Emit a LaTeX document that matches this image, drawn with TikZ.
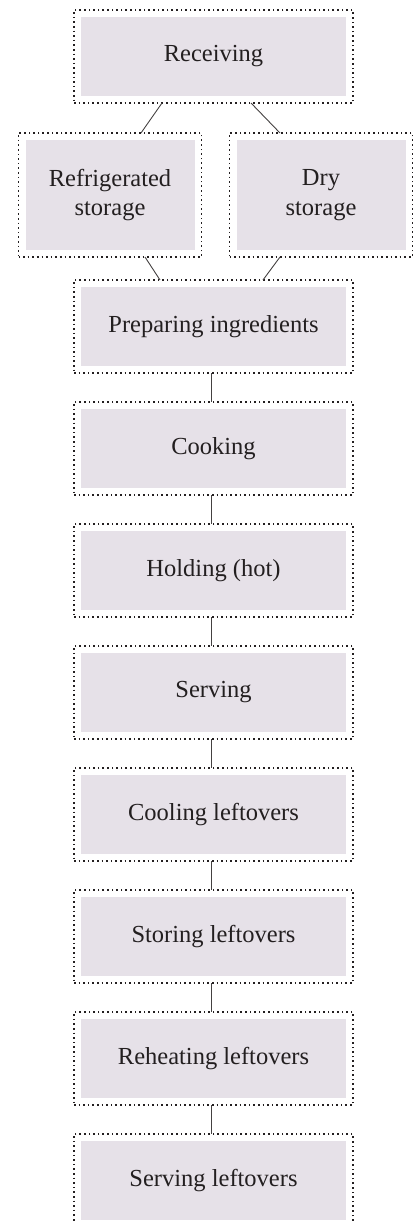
\documentclass[tikz,border=0pt]{standalone}
\usepackage{fontspec}
\setmainfont{Liberation Serif}
\usetikzlibrary{positioning}
\definecolor{stepFill}{RGB}{230,225,232}
\definecolor{stepInk}{RGB}{35,31,32}

\begin{document}
\begin{tikzpicture}[x=1pt,y=1pt,node distance=29pt,
  stepbox/.style={draw=stepInk,line width=1.6pt,dash pattern=on 1.6pt off 3pt,
    minimum width=279pt,minimum height=93pt,inner sep=0pt,outer sep=0pt,align=center,
    text=stepInk,font=\fontsize{24.5}{29.5}\selectfont,
    path picture={\fill[stepFill] ([shift={(7pt,7pt)}]path picture bounding box.south west)
      rectangle ([shift={(-7pt,-7pt)}]path picture bounding box.north east);}},
  storebox/.style={stepbox,minimum width=183pt,minimum height=124pt},
  link/.style={draw=stepInk!85,line width=0.9pt}]
\useasboundingbox (0,0) rectangle (416,-1222);
\clip (0,0) rectangle (416,-1222);
% receiving and storage
\node[stepbox] (recv) at (213.5,-56.5) {Receiving};
\node[storebox] (refr) at (110,-195) {Refrigerated\\storage};
\node[storebox] (dry) at (321,-195) {Dry\\storage};
% main line
\node[stepbox] (prep) at (213.5,-326.5) {Preparing ingredients};
\node[stepbox,below=of prep] (cook) {Cooking};
\node[stepbox,below=of cook] (hold) {Holding (hot)};
\node[stepbox,below=of hold] (serve) {Serving};
\node[stepbox,below=of serve] (cool) {Cooling leftovers};
\node[stepbox,below=of cool] (store) {Storing leftovers};
\node[stepbox,below=of store] (reheat) {Reheating leftovers};
\node[stepbox,below=of reheat] (serveleft) {Serving leftovers};
% connectors
\draw[link] ([xshift=-51.5pt]recv.south) -- ([xshift=31pt]refr.north);
\draw[link] ([xshift=37.5pt]recv.south) -- ([xshift=-41pt]dry.north);
\draw[link] ([xshift=35pt]refr.south) -- ([xshift=-53.5pt]prep.north);
\draw[link] ([xshift=-41pt]dry.south) -- ([xshift=49.5pt]prep.north);
\foreach \a/\b in {prep/cook,cook/hold,hold/serve,serve/cool,cool/store,store/reheat,reheat/serveleft}
  \draw[link] ([xshift=-2pt]\a.south) -- ([xshift=-2pt]\b.north);
\end{tikzpicture}
\end{document}
